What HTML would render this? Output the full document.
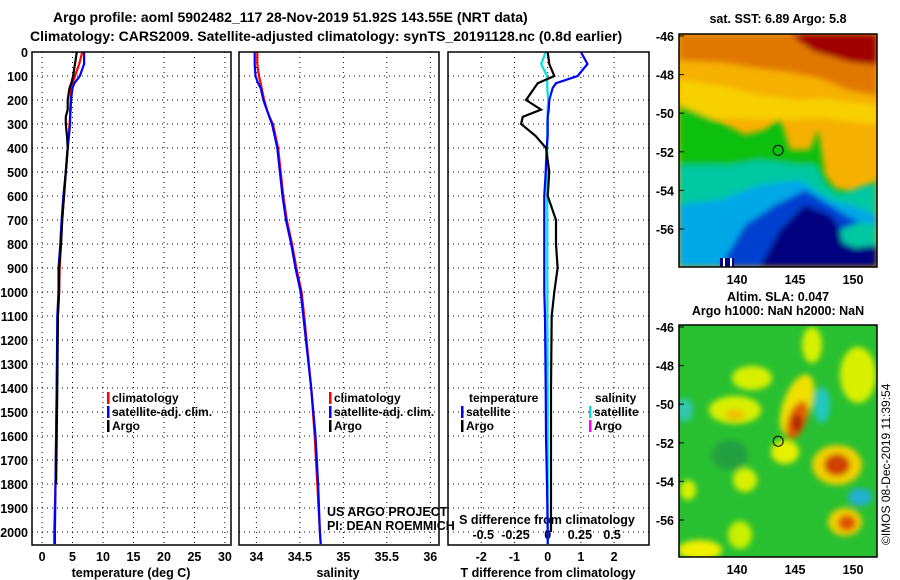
<!DOCTYPE html>
<html><head><meta charset="utf-8"><style>
body{margin:0;background:#fff}
svg{display:block;font-family:"Liberation Sans",sans-serif}
.t{font-weight:bold;font-size:14px}
.tk{font-weight:bold;font-size:12.5px}
.lg{font-weight:bold;font-size:12px}
</style></head><body>
<svg id="c" width="900" height="580" viewBox="0 0 900 580">
<defs>
<filter id="bl" x="-20%" y="-20%" width="140%" height="140%"><feGaussianBlur stdDeviation="3"/></filter>
<clipPath id="m1c"><rect x="679" y="34" width="198" height="233"/></clipPath>
<clipPath id="m2c"><rect x="679" y="325" width="198" height="232"/></clipPath>
</defs>
<text class="t" x="53" y="22">Argo profile: aoml 5902482_117 28-Nov-2019 51.92S 143.55E (NRT data)</text>
<text class="t" x="30" y="41">Climatology: CARS2009. Satellite-adjusted climatology: synTS_20191128.nc (0.8d earlier)</text>

<g id="maps">
<g clip-path="url(#m1c)">
<rect x="679" y="34" width="198" height="233" fill="#f6b000"/>
<g filter="url(#bl)">
<polygon points="679,34 877,34 877,95 850,90 820,78 790,72 760,68 720,62 679,60" fill="#e07800"/>
<polygon points="790,34 877,34 877,65 850,62 830,56 815,52 800,42" fill="#a00000"/>
<polygon points="679,80 720,85 760,95 800,100 820,98 877,105 877,125 820,118 790,120 679,118" fill="#f8d000"/>
<polygon points="679,105 720,122 745,135 765,130 780,118 790,150 810,150 818,130 825,175 835,188 855,192 877,180 877,267 679,267" fill="#10c010"/>
<polygon points="679,165 730,165 760,160 800,165 815,165 825,185 840,195 865,185 877,185 877,267 679,267" fill="#00c8a0"/>
<polygon points="679,205 720,200 760,185 800,180 830,200 850,205 877,215 877,267 679,267" fill="#00a8e8"/>
<polygon points="720,267 745,225 775,205 805,190 830,205 845,215 877,230 877,267" fill="#0040d0"/>
<polygon points="760,267 780,230 805,205 830,215 845,235 877,248 877,267" fill="#000080"/>
<polygon points="840,230 860,222 877,225 877,245 855,248 842,242" fill="#00c8a0"/>
</g>
<rect x="720" y="258" width="14" height="9" fill="#000080"/>
<rect x="723" y="258" width="2" height="9" fill="#fff"/>
<rect x="730" y="258" width="2" height="9" fill="#fff"/>
</g>
<g clip-path="url(#m2c)">
<rect x="679" y="325" width="198" height="232" fill="#28c030"/>
<g filter="url(#bl)">
<ellipse cx="735" cy="410" rx="26" ry="14" fill="#d8f000"/>
<ellipse cx="735" cy="415" rx="10" ry="6" fill="#f0c000"/>
<ellipse cx="752" cy="378" rx="20" ry="12" fill="#d8f000"/>
<ellipse cx="797" cy="405" rx="14" ry="32" transform="rotate(20 797 405)" fill="#f0e000"/>
<ellipse cx="797" cy="420" rx="9" ry="20" transform="rotate(20 797 420)" fill="#e06000"/>
<ellipse cx="797" cy="423" rx="5" ry="9" fill="#b02000"/>
<ellipse cx="837" cy="465" rx="25" ry="20" fill="#f0d000"/>
<ellipse cx="837" cy="465" rx="13" ry="11" fill="#d04000"/>
<ellipse cx="845" cy="522" rx="17" ry="14" fill="#f0d000"/>
<ellipse cx="847" cy="523" rx="9" ry="8" fill="#e05000"/>
<ellipse cx="858" cy="375" rx="18" ry="28" fill="#d8f000"/>
<ellipse cx="812" cy="345" rx="10" ry="18" fill="#d8f000"/>
<ellipse cx="785" cy="452" rx="14" ry="12" fill="#e8f000"/>
<ellipse cx="822" cy="405" rx="8" ry="18" fill="#20c8c0"/>
<ellipse cx="860" cy="497" rx="12" ry="9" fill="#20b0d0"/>
<ellipse cx="685" cy="410" rx="8" ry="12" fill="#30c8b0"/>
<ellipse cx="730" cy="455" rx="18" ry="15" fill="#20a040"/>
<ellipse cx="700" cy="550" rx="22" ry="10" fill="#f0f000"/>
<ellipse cx="740" cy="535" rx="12" ry="14" fill="#c8f000"/>
<ellipse cx="745" cy="480" rx="12" ry="12" fill="#d8f000"/>
<ellipse cx="688" cy="490" rx="8" ry="10" fill="#d8f000"/>
</g>
</g>
</g>
<g id="plots"></g>
<text x="890" y="545" transform="rotate(-90 890 545)" font-size="12">©IMOS 08-Dec-2019 11:39:54</text>
</svg>
<script>
// ---- data ----
const depths      = [0,50,100,130,150,200,240,270,300,350,400,500,600,700,800,900,1000,1100,1400,1600,1800,2000,2050];
const tempArgo    = [5.7,5.4,5.1,4.8,4.5,4.2,4.2,3.9,3.9,4.1,4.2,3.9,3.6,3.3,3.1,2.8,2.8,2.6,2.5,2.4,2.3,null,null];
const tempClim    = [6.6,6.1,5.4,5.0,4.8,4.7,4.6,4.6,4.5,4.4,4.2,3.9,3.6,3.3,3.1,2.9,2.8,2.6,2.4,2.3,2.2,2.0,2.0];
const tempSat     = [6.9,6.9,6.2,5.3,5.0,4.75,4.7,4.6,4.6,4.4,4.2,3.9,3.5,3.2,3.0,2.7,2.7,2.5,2.4,2.3,2.2,2.1,2.1];
const salClim     = [34.01,34.01,34.03,34.05,34.06,34.09,34.12,34.15,34.19,34.22,34.25,34.28,34.31,34.35,34.41,34.46,34.52,34.55,34.63,34.67,34.70,34.73,34.74];
const salSat      = [33.98,33.98,33.99,34.02,34.05,34.08,34.12,34.15,34.18,34.21,34.24,34.27,34.30,34.34,34.40,34.45,34.51,34.54,34.63,34.68,34.71,34.73,34.74];
const dTArgo      = [0,0.05,0.2,-0.3,-0.4,-0.65,-0.2,-0.75,-0.8,-0.36,-0.05,0.05,0.0,0.25,0.25,0.3,0.2,0.12,0.1,0.1,0.1,0.1,null];
const dTSat       = [1.0,1.2,0.9,0.25,0.15,0.05,0.03,0.0,0.0,0.0,-0.03,-0.06,-0.1,-0.1,-0.1,-0.1,-0.1,-0.08,-0.06,-0.05,-0.02,0.0,0.0];
const dSSat       = [-0.015,-0.05,-0.005,-0.004,-0.003,0.004,0.0,0.0,-0.004,-0.004,-0.004,-0.004,-0.004,-0.003,-0.003,-0.003,-0.002,-0.002,0.0,0.0,0.0,0.0,0.0];
const depthTicks  = [0,100,200,300,400,500,600,700,800,900,1000,1100,1200,1300,1400,1500,1600,1700,1800,1900,2000];
const tempTicks   = [0,5,10,15,20,25,30];
const salTicks    = [34,34.5,35,35.5,36];
const dTTicks     = [-2,-1,0,1,2];
const dSTicks     = [-0.5,-0.25,0,0.25,0.5];
const latTicks    = [-46,-48,-50,-52,-54,-56];
const lonTicks    = [140,145,150];
const argoPos     = [143.55,-51.92];

const NS="http://www.w3.org/2000/svg";
const g=document.getElementById('plots');
function el(t,a,p){const e=document.createElementNS(NS,t);for(const k in a)e.setAttribute(k,a[k]);(p||g).appendChild(e);return e;}
const Y0=52, Y1=545;
const yD=d=>Y0+d*0.24;
function panel(x0,x1,xmin,xmax){return v=>x0+(v-xmin)/(xmax-xmin)*(x1-x0);}
const P=[
 {x0:32,x1:231,f:panel(32,231,-1.65,31)},
 {x0:239,x1:439,f:panel(239,439,33.8,36.1)},
 {x0:448,x1:649,f:panel(448,649,-3,3.05)}
];
const fS=v=>P[2].f(v*3.88);
function grid(p,ticks,fx,name){
 ticks.forEach(t=>{const x=fx(t);const l=el('line',{x1:x,x2:x,y1:Y0,y2:Y1,stroke:'#000','stroke-dasharray':'1,4','stroke-width':1});
  });
 depthTicks.forEach(d=>{const y=yD(d);const l=el('line',{x1:p.x0,x2:p.x1,y1:y,y2:y,stroke:'#000','stroke-dasharray':'1,4','stroke-width':1});
  });
}
function line(vals,fx,color,name,w){
 let segs=[],cur=[];
 vals.forEach((v,i)=>{if(v===null){if(cur.length)segs.push(cur);cur=[];}else cur.push(fx(v).toFixed(1)+','+yD(depths[i]).toFixed(1));});
 if(cur.length)segs.push(cur);
 segs.forEach(s=>{const pl=el('polyline',{points:s.join(' '),fill:'none',stroke:color,'stroke-width':w||2.2});
  });
}
function frame(p,name){const r=el('rect',{x:p.x0,y:Y0,width:p.x1-p.x0,height:Y1-Y0,fill:'none',stroke:'#000','stroke-width':1.5});
 }
function txt(x,y,s,cls,anchor,name){const t=el('text',{x:x,y:y,class:cls||'tk','text-anchor':anchor||'middle'});t.textContent=s;
 return t;}

grid(P[0],tempTicks,P[0].f,'temperature');
grid(P[1],salTicks,P[1].f,'salinity');
grid(P[2],dTTicks,P[2].f,'tdiff');
depthTicks.forEach(d=>{if(d<=2000)txt(28,yD(d)+5,String(d),'tk','end','depth-tick-label');});
tempTicks.forEach(t=>txt(P[0].f(t),561,String(t),'tk','middle','temperature-tick-label'));
salTicks.forEach(t=>txt(P[1].f(t),561,String(t),'tk','middle','salinity-tick-label'));
dTTicks.forEach(t=>txt(P[2].f(t),561,String(t),'tk','middle','tdiff-tick-label'));
dSTicks.forEach(t=>txt(fS(t),539,String(t),'tk','middle','sdiff-tick-label'));
txt(131,577,'temperature (deg C)','tk','middle','temperature-axis-title');
txt(338,577,'salinity','tk','middle','salinity-axis-title');
txt(548,577,'T difference from climatology','tk','middle','tdiff-axis-title');
txt(547,524,'S difference from climatology','tk','middle','sdiff-axis-title');

line(tempClim,P[0].f,'#ff0000','temp-climatology-line');
line(tempSat,P[0].f,'#0000ff','temp-satellite-line');
line(tempArgo,P[0].f,'#000000','temp-argo-line');
line(salClim,P[1].f,'#ff0000','salinity-climatology-line');
line(salSat,P[1].f,'#0000ff','salinity-satellite-line');
line(dSSat,fS,'#00e0e0','sdiff-satellite-line');
line(dTSat,P[2].f,'#0000ff','tdiff-satellite-line');
line(dTArgo,P[2].f,'#000000','tdiff-argo-line');
P.forEach((p,i)=>frame(p,['temperature','salinity','tdiff'][i]));

function leg(x,y,color,label,name){const r=el('rect',{x:x,y:y-10,width:2.5,height:12,fill:color});
 
 txt(x+5,y,label,'lg','start',name);}
leg(107,402,'#ff0000','climatology','legend-climatology');
leg(107,416,'#0000ff','satellite-adj. clim.','legend-satellite');
leg(107,430,'#000','Argo','legend-argo');
leg(329,402,'#ff0000','climatology','legend2-climatology');
leg(329,416,'#0000ff','satellite-adj. clim.','legend2-satellite');
leg(329,430,'#000','Argo','legend2-argo');
txt(469,402,'temperature','lg','start','legend3-temperature-header');
leg(461,416,'#0000ff','satellite','legend3-t-satellite');
leg(461,430,'#000','Argo','legend3-t-argo');
txt(595,402,'salinity','lg','start','legend3-salinity-header');
leg(589,416,'#00e0e0','satellite','legend3-s-satellite');
leg(589,430,'#ff00ff','Argo','legend3-s-argo');
let t1=txt(327,516,'US ARGO PROJECT','', 'start','credit-project');t1.setAttribute('font-size','12');
let t2=txt(327,530,'PI: DEAN ROEMMICH','','start','credit-pi');t2.setAttribute('font-size','12');

// maps
const maps=[{y0:34,y1:267,lat0:36,title:['sat. SST: 6.89 Argo: 5.8'],ty:[23],n:'sst'},
            {y0:325,y1:557,lat0:327,title:['Altim. SLA: 0.047','Argo h1000: NaN h2000: NaN'],ty:[301,315],n:'sla'}];
const lonX=l=>737+(l-140)*11.6;
maps.forEach(m=>{
 const latY=l=>m.lat0+(-46-l)*19.3;
 const r=el('rect',{x:679,y:m.y0,width:198,height:m.y1-m.y0,fill:'none',stroke:'#000','stroke-width':1.5});
 
 latTicks.forEach(l=>{txt(674,latY(l)+5,String(l),'tk','end',m.n+'-lat-label');
  const tk=el('line',{x1:679,x2:684,y1:latY(l),y2:latY(l),stroke:'#000'});});
 lonTicks.forEach(l=>{txt(lonX(l),m.y1+17,String(l),'tk','middle',m.n+'-lon-label');});
 m.title.forEach((s,i)=>txt(778,m.ty[i],s,'tk','middle',m.n+'-map-title'));
 const c=el('circle',{cx:lonX(argoPos[0]),cy:latY(argoPos[1]),r:5,fill:'none',stroke:'#000','stroke-width':1});
 
});
</script>
</body></html>
